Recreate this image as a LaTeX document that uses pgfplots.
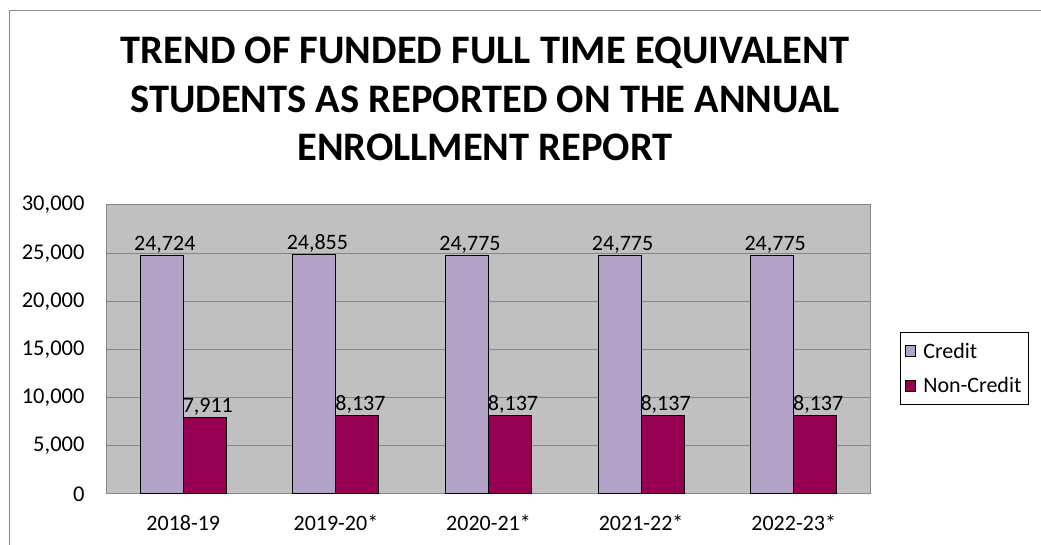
\documentclass[border=0pt]{standalone}
\usepackage{fontspec}
\setmainfont{Carlito}
\usepackage{pgfplots}
\pgfplotsset{compat=1.18}
\definecolor{credit}{HTML}{B3A2C7}
\definecolor{noncredit}{HTML}{960050}
\definecolor{plotbg}{HTML}{C0C0C0}
\definecolor{gridgray}{HTML}{868686}
\definecolor{framegray}{HTML}{8A8A8A}

\begin{document}
\begin{tikzpicture}[x=1pt,y=1pt]
  \path[use as bounding box, fill=white] (0,0) rectangle (1041,545);
  % outer chart frame (partly cropped)
  \draw[framegray, line width=1.6pt] (9.5,0) -- (9.5,534.5) -- (1041,534.5);
  % title
  \node[align=center, font=\fontsize{40.5}{48.5}\selectfont\bfseries] at (485,446)
    {TREND OF FUNDED FULL TIME EQUIVALENT\\STUDENTS AS REPORTED ON THE ANNUAL\\ENROLLMENT REPORT};

  \begin{axis}[
    at={(107pt,51pt)}, anchor=south west,
    scale only axis,
    width=763pt, height=289pt,
    ybar=0pt,
    bar width=43pt,
    xmin=-0.5, xmax=4.5,
    ymin=0, ymax=30000,
    ytick={0,5000,10000,15000,20000,25000,30000},
    xtick=data,
    xticklabels={2018-19,2019-20*,2020-21*,2021-22*,2022-23*},
    major tick length=0pt,
    axis background/.style={fill=plotbg},
    axis line style={gridgray, line width=1pt},
    ymajorgrids=true,
    grid style={gridgray, line width=1pt},
    /pgf/number format/assume math mode=true,
    /pgf/number format/1000 sep={,},
    scaled y ticks=false,
    yticklabel style={font=\fontsize{22.5}{26}\selectfont, xshift=-19pt, anchor=east},
    xticklabel style={font=\fontsize{22}{26}\selectfont, anchor=base, yshift=-37pt},
    nodes near coords,
    nodes near coords style={font=\fontsize{22}{26}\selectfont, black,
      /pgf/number format/assume math mode=true,
      /pgf/number format/1000 sep={,}, inner sep=2pt, xshift=3pt},
    legend cell align=left,
    legend style={at={(1.0393,0.434)}, anchor=west,
      draw=black, line width=1pt, font=\fontsize{22}{26}\selectfont,
      inner xsep=5pt, inner ysep=8pt, row sep=14pt,
      /tikz/every odd column/.append style={column sep=5pt}},
    legend image code/.code={\draw[#1, line width=0.8pt] (0pt,-5pt) rectangle (10pt,6pt);},
  ]
    \addplot[draw=black, line width=1pt, fill=credit] coordinates {
      (0,24724) (1,24855) (2,24775) (3,24775) (4,24775)};
    \addplot[draw=black, line width=1pt, fill=noncredit] coordinates {
      (0,7911) (1,8137) (2,8137) (3,8137) (4,8137)};
    \legend{Credit,Non-Credit}
  \end{axis}
\end{tikzpicture}
\end{document}
